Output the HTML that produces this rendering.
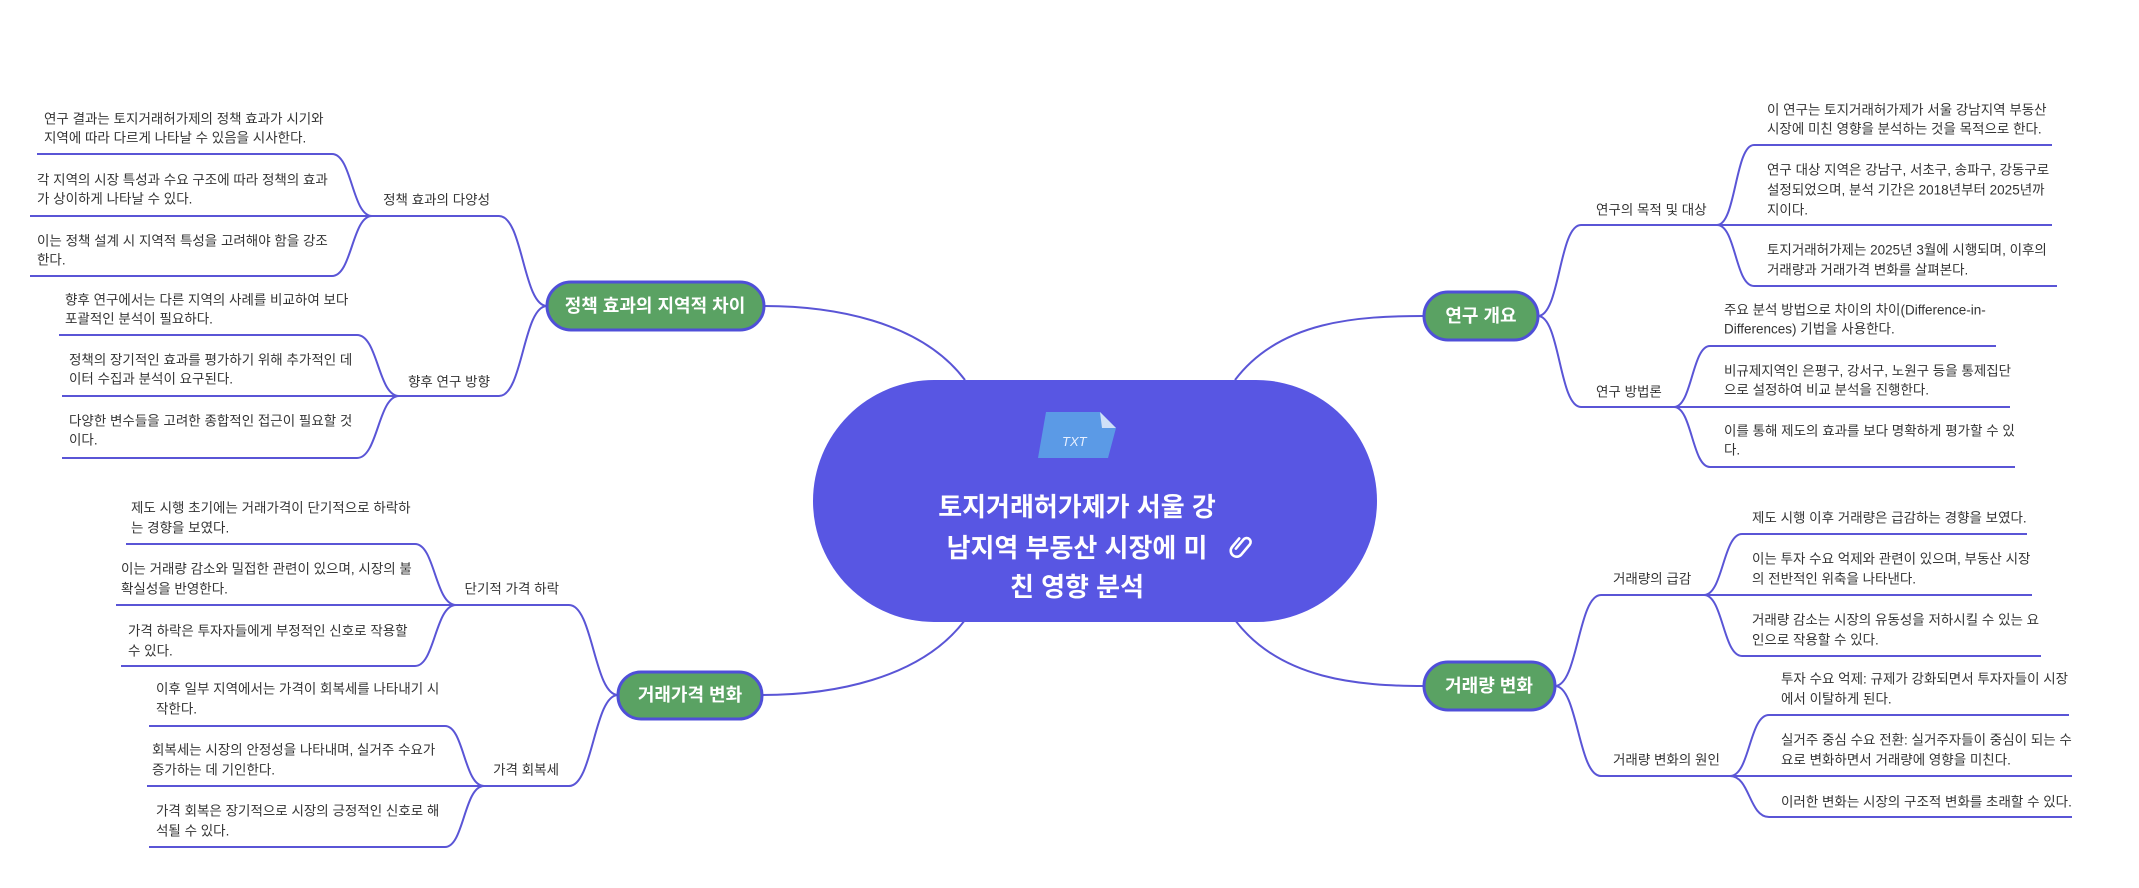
<!DOCTYPE html>
<html><head><meta charset="utf-8"><style>
html,body{margin:0;padding:0;background:#fff;}
svg{display:block;}
text{font-family:"Liberation Sans","Noto Sans CJK KR",sans-serif;}
.t{font-size:13.5px;fill:#333;dominant-baseline:central;}
.n{font-size:18px;fill:#fff;font-weight:bold;text-anchor:middle;dominant-baseline:central;}
.c{font-size:26px;fill:#fff;font-weight:bold;text-anchor:middle;dominant-baseline:central;}
</style></head><body>
<svg width="2139" height="888" viewBox="0 0 2139 888" xmlns="http://www.w3.org/2000/svg">
<g fill="none" stroke="#5a55d6" stroke-width="2">
<path d="M965,380 C920,320 830,306 764,306"/>
<path d="M1235,380 C1280,320 1360,316 1424,316"/>
<path d="M965,620 C920,680 830,695 762,695"/>
<path d="M1235,620 C1280,680 1360,686 1424,686"/>
<path d="M1538,316 C1560,316 1559,225 1581,225 H1717"/>
<path d="M1538,316 C1560,316 1559,407 1581,407 H1674"/>
<path d="M1717,225 C1736,225 1735,145 1754,145 H2052"/>
<path d="M1717,225 H2052"/>
<path d="M1717,225 C1736,225 1735,286 1754,286 H2057"/>
<path d="M1674,407 C1692,407 1692,346 1710,346 H1996"/>
<path d="M1674,407 H2010"/>
<path d="M1674,407 C1692,407 1692,467 1710,467 H2015"/>
<path d="M1555,686 C1578,686 1578,595 1601,595 H1704"/>
<path d="M1555,686 C1578,686 1578,776 1601,776 H1730"/>
<path d="M1704,595 C1723,595 1723,534 1742,534 H2027"/>
<path d="M1704,595 H2032"/>
<path d="M1704,595 C1723,595 1723,656 1742,656 H2041"/>
<path d="M1730,776 C1750,776 1749,715 1769,715 H2069"/>
<path d="M1730,776 H2072"/>
<path d="M1730,776 C1750,776 1749,817 1769,817 H2072"/>
<path d="M547,306 C523,306 523,216 499,216 H372"/>
<path d="M547,306 C523,306 523,396 499,396 H399"/>
<path d="M372,216 C352,216 352,154 332,154 H37"/>
<path d="M372,216 H30"/>
<path d="M372,216 C352,216 352,276 332,276 H30"/>
<path d="M399,396 C378,396 378,335 357,335 H59"/>
<path d="M399,396 H62"/>
<path d="M399,396 C378,396 378,458 357,458 H62"/>
<path d="M618,695 C594,695 593,605 569,605 H456"/>
<path d="M618,695 C594,695 593,786 569,786 H484"/>
<path d="M456,605 C435,605 435,544 415,544 H126"/>
<path d="M456,605 H116"/>
<path d="M456,605 C435,605 435,666 415,666 H121"/>
<path d="M484,786 C464,786 464,726 445,726 H149"/>
<path d="M484,786 H147"/>
<path d="M484,786 C464,786 464,847 445,847 H149"/>
</g>
<rect x="813" y="380" width="564" height="242" rx="121" fill="#5856e3"/>
<g>
<path d="M1046,412 H1100 L1116,428 L1108,458 H1038 Z" fill="#5b9ae6"/>
<path d="M1100,412 L1116,428 H1102 Z" fill="#cfe0f8"/>
<text x="1062" y="446" font-size="13" fill="#e8f0ff" font-style="italic">TXT</text>
</g>
<text class="c" x="1077" y="507">토지거래허가제가 서울 강</text>
<text class="c" x="1077" y="548">남지역 부동산 시장에 미</text>
<text class="c" x="1077" y="587">친 영향 분석</text>
<g transform="translate(1242,546) rotate(40)" fill="none" stroke="#fff" stroke-width="2.6" stroke-linecap="round">
<path d="M-3,6 V-6 A4,4 0 0 1 5,-6 V7 A6,6 0 0 1 -7,7 V-4"/>
</g>
<g fill="#5aa263" stroke="#4f4fd8" stroke-width="3">
<rect x="1424" y="292" width="114" height="48" rx="24"/>
<rect x="1424" y="662" width="131" height="48" rx="24"/>
<rect x="547" y="282" width="217" height="48" rx="24"/>
<rect x="618" y="672" width="144" height="47" rx="23"/>
</g>
<text class="n" x="1481" y="316">연구 개요</text>
<text class="n" x="1489" y="686">거래량 변화</text>
<text class="n" x="655" y="306">정책 효과의 지역적 차이</text>
<text class="n" x="690" y="695">거래가격 변화</text>
<text class="t" x="1596" y="210">연구의 목적 및 대상</text>
<text class="t" x="1596" y="392">연구 방법론</text>
<text class="t" x="1613" y="579">거래량의 급감</text>
<text class="t" x="1613" y="760">거래량 변화의 원인</text>
<text class="t" x="490" y="200" text-anchor="end">정책 효과의 다양성</text>
<text class="t" x="490" y="382" text-anchor="end">향후 연구 방향</text>
<text class="t" x="559" y="589" text-anchor="end">단기적 가격 하락</text>
<text class="t" x="559" y="770" text-anchor="end">가격 회복세</text>
<text class="t" x="1767" y="110">이 연구는 토지거래허가제가 서울 강남지역 부동산</text>
<text class="t" x="1767" y="129">시장에 미친 영향을 분석하는 것을 목적으로 한다.</text>
<text class="t" x="1767" y="170">연구 대상 지역은 강남구, 서초구, 송파구, 강동구로</text>
<text class="t" x="1767" y="190">설정되었으며, 분석 기간은 2018년부터 2025년까</text>
<text class="t" x="1767" y="210">지이다.</text>
<text class="t" x="1767" y="250">토지거래허가제는 2025년 3월에 시행되며, 이후의</text>
<text class="t" x="1767" y="270">거래량과 거래가격 변화를 살펴본다.</text>
<text class="t" x="1724" y="310">주요 분석 방법으로 차이의 차이(Difference-in-</text>
<text class="t" x="1724" y="329">Differences) 기법을 사용한다.</text>
<text class="t" x="1724" y="371">비규제지역인 은평구, 강서구, 노원구 등을 통제집단</text>
<text class="t" x="1724" y="390">으로 설정하여 비교 분석을 진행한다.</text>
<text class="t" x="1724" y="431">이를 통해 제도의 효과를 보다 명확하게 평가할 수 있</text>
<text class="t" x="1724" y="450">다.</text>
<text class="t" x="1752" y="518">제도 시행 이후 거래량은 급감하는 경향을 보였다.</text>
<text class="t" x="1752" y="559">이는 투자 수요 억제와 관련이 있으며, 부동산 시장</text>
<text class="t" x="1752" y="579">의 전반적인 위축을 나타낸다.</text>
<text class="t" x="1752" y="620">거래량 감소는 시장의 유동성을 저하시킬 수 있는 요</text>
<text class="t" x="1752" y="640">인으로 작용할 수 있다.</text>
<text class="t" x="1781" y="679">투자 수요 억제: 규제가 강화되면서 투자자들이 시장</text>
<text class="t" x="1781" y="699">에서 이탈하게 된다.</text>
<text class="t" x="1781" y="740">실거주 중심 수요 전환: 실거주자들이 중심이 되는 수</text>
<text class="t" x="1781" y="760">요로 변화하면서 거래량에 영향을 미친다.</text>
<text class="t" x="1781" y="802">이러한 변화는 시장의 구조적 변화를 초래할 수 있다.</text>
<text class="t" x="44" y="119">연구 결과는 토지거래허가제의 정책 효과가 시기와</text>
<text class="t" x="44" y="138">지역에 따라 다르게 나타날 수 있음을 시사한다.</text>
<text class="t" x="37" y="180">각 지역의 시장 특성과 수요 구조에 따라 정책의 효과</text>
<text class="t" x="37" y="199">가 상이하게 나타날 수 있다.</text>
<text class="t" x="37" y="241">이는 정책 설계 시 지역적 특성을 고려해야 함을 강조</text>
<text class="t" x="37" y="260">한다.</text>
<text class="t" x="65" y="300">향후 연구에서는 다른 지역의 사례를 비교하여 보다</text>
<text class="t" x="65" y="319">포괄적인 분석이 필요하다.</text>
<text class="t" x="69" y="360">정책의 장기적인 효과를 평가하기 위해 추가적인 데</text>
<text class="t" x="69" y="379">이터 수집과 분석이 요구된다.</text>
<text class="t" x="69" y="421">다양한 변수들을 고려한 종합적인 접근이 필요할 것</text>
<text class="t" x="69" y="440">이다.</text>
<text class="t" x="131" y="508">제도 시행 초기에는 거래가격이 단기적으로 하락하</text>
<text class="t" x="131" y="528">는 경향을 보였다.</text>
<text class="t" x="121" y="569">이는 거래량 감소와 밀접한 관련이 있으며, 시장의 불</text>
<text class="t" x="121" y="589">확실성을 반영한다.</text>
<text class="t" x="128" y="631">가격 하락은 투자자들에게 부정적인 신호로 작용할</text>
<text class="t" x="128" y="651">수 있다.</text>
<text class="t" x="156" y="689">이후 일부 지역에서는 가격이 회복세를 나타내기 시</text>
<text class="t" x="156" y="709">작한다.</text>
<text class="t" x="152" y="750">회복세는 시장의 안정성을 나타내며, 실거주 수요가</text>
<text class="t" x="152" y="770">증가하는 데 기인한다.</text>
<text class="t" x="156" y="811">가격 회복은 장기적으로 시장의 긍정적인 신호로 해</text>
<text class="t" x="156" y="831">석될 수 있다.</text>
</svg>
</body></html>
